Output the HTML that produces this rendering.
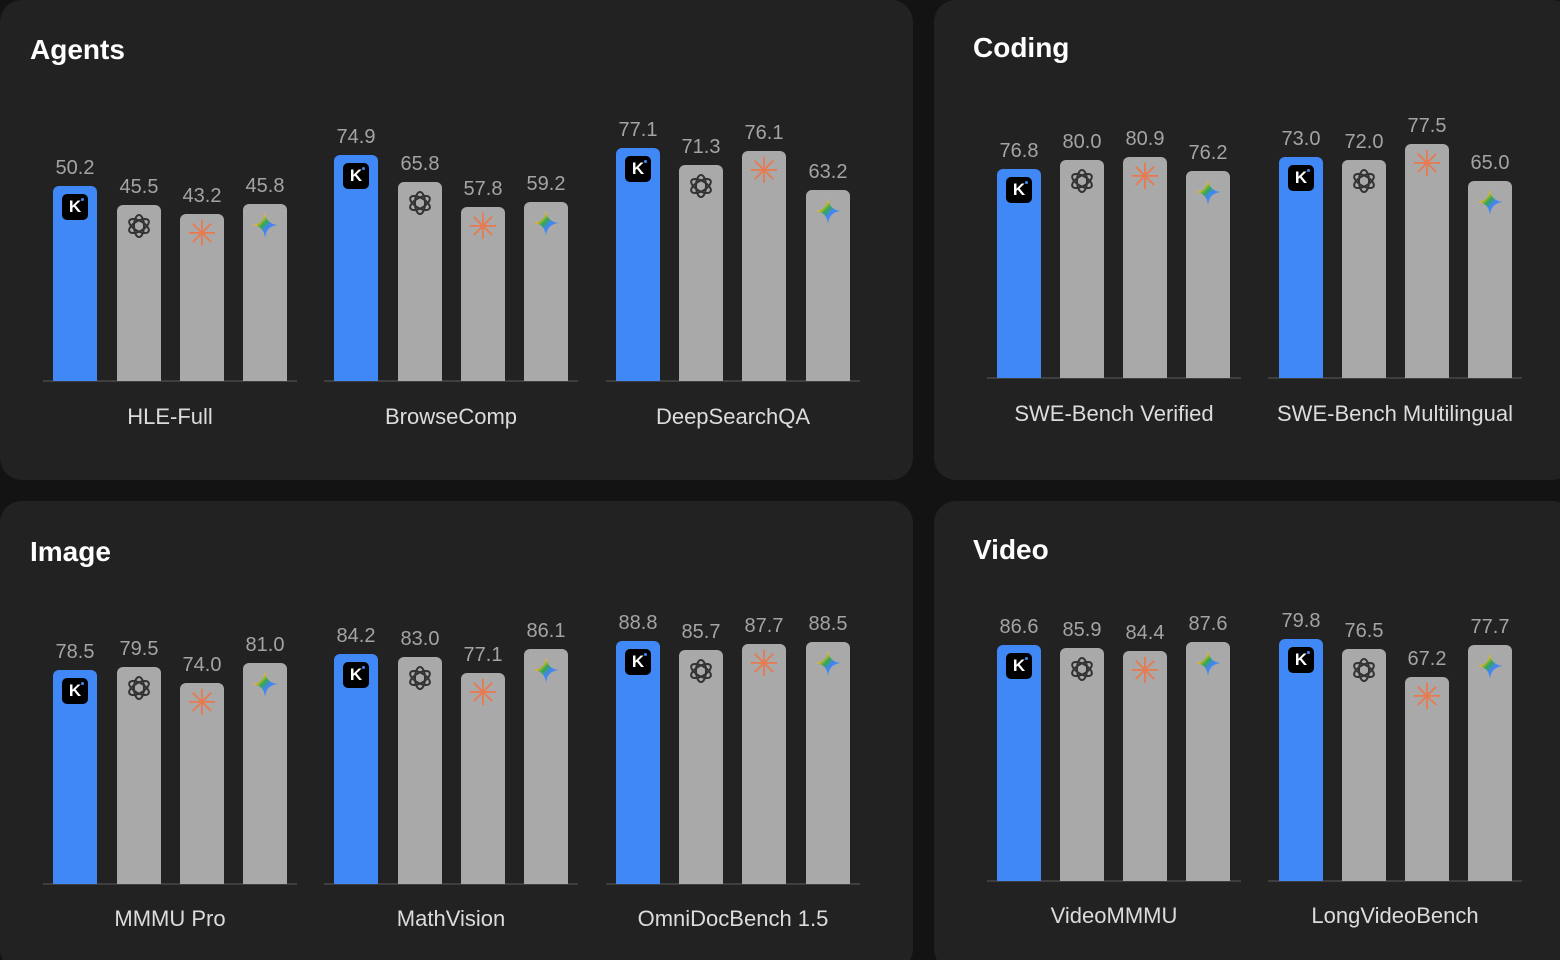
<!DOCTYPE html>
<html style="overflow:hidden"><head><meta charset="utf-8"><style>
html,body{margin:0;width:1560px;height:960px;overflow:hidden}
body{background:#131313;position:relative;font-family:"Liberation Sans",sans-serif}
.p{position:absolute;background:#222222;border-radius:22px}
.t{position:absolute;color:#fff;font-weight:bold;font-size:28px;line-height:30px}
.b{position:absolute;width:44px;border-radius:6px 6px 0 0}
.bl{background:#3f88f6}.g{background:#a9a9a9}
.v{position:absolute;width:70px;margin-left:-13px;text-align:center;font-size:20px;line-height:22px;color:#a4a4a4}
.ax{position:absolute;height:2px;background:#3e3e3e;width:254px}
.c{position:absolute;width:300px;text-align:center;font-size:22px;line-height:26px;color:#dcdcdc}
.i{position:absolute;left:8px;top:7px;width:28px;height:28px}
.k{position:absolute;left:9px;top:8px;width:26px;height:26px;background:#000;border-radius:5px;color:#fff;font-weight:bold;font-size:17px;line-height:26px;text-align:center}
.k:after{content:"";position:absolute;right:4px;top:4px;width:3px;height:3px;background:#3f88f6;border-radius:50%}
.cl{position:absolute;left:0;width:44px;top:3px;text-align:center;color:#e87a50;font-size:36px;line-height:34px}
</style></head><body>
<svg width="0" height="0" style="position:absolute"><defs>
<g id="oa" fill="none" stroke="#333" stroke-width="2"><ellipse cx="14" cy="14" rx="5" ry="11"/><ellipse cx="14" cy="14" rx="5" ry="11" transform="rotate(60 14 14)"/><ellipse cx="14" cy="14" rx="5" ry="11" transform="rotate(120 14 14)"/></g>
<linearGradient id="gm" x1="0" y1="0" x2="1" y2="1"><stop offset="0" stop-color="#e94235"/><stop offset=".3" stop-color="#f9bc15"/><stop offset=".45" stop-color="#34a853"/><stop offset=".6" stop-color="#4285f4"/><stop offset="1" stop-color="#4285f4"/></linearGradient>
<g id="gs"><path d="M14 1 Q15 13 27 14 Q15 15 14 27 Q13 15 1 14 Q13 13 14 1Z" fill="url(#gm)"/></g>
</defs></svg>

<div class="p" style="left:0;top:0;width:913px;height:480px"></div>
<div class="p" style="left:934px;top:0;width:640px;height:480px"></div>
<div class="p" style="left:0;top:501px;width:913px;height:470px"></div>
<div class="p" style="left:934px;top:501px;width:640px;height:470px"></div>

<div class="t" style="left:30px;top:35px">Agents</div>
<div class="t" style="left:973px;top:33px">Coding</div>
<div class="t" style="left:30px;top:537px">Image</div>
<div class="t" style="left:973px;top:535px">Video</div>

<div class="ax" style="left:43px;top:380px"></div><div class="ax" style="left:324px;top:380px"></div><div class="ax" style="left:606px;top:380px"></div>
<div class="c" style="left:20px;top:404px">HLE-Full</div><div class="c" style="left:301px;top:404px">BrowseComp</div><div class="c" style="left:583px;top:404px">DeepSearchQA</div>

<div class="b bl" style="left:53px;top:186px;height:195px"><div class="k">K</div></div><div class="v" style="left:53px;top:157px">50.2</div>
<div class="b g" style="left:117px;top:205px;height:176px"><svg class="i"><use href="#oa"/></svg></div><div class="v" style="left:117px;top:176px">45.5</div>
<div class="b g" style="left:180px;top:214px;height:167px"><div class="cl">✳</div></div><div class="v" style="left:180px;top:185px">43.2</div>
<div class="b g" style="left:243px;top:204px;height:177px"><svg class="i"><use href="#gs"/></svg></div><div class="v" style="left:243px;top:175px">45.8</div>

<div class="b bl" style="left:334px;top:155px;height:226px"><div class="k">K</div></div><div class="v" style="left:334px;top:126px">74.9</div>
<div class="b g" style="left:398px;top:182px;height:199px"><svg class="i"><use href="#oa"/></svg></div><div class="v" style="left:398px;top:153px">65.8</div>
<div class="b g" style="left:461px;top:207px;height:174px"><div class="cl">✳</div></div><div class="v" style="left:461px;top:178px">57.8</div>
<div class="b g" style="left:524px;top:202px;height:179px"><svg class="i"><use href="#gs"/></svg></div><div class="v" style="left:524px;top:173px">59.2</div>

<div class="b bl" style="left:616px;top:148px;height:233px"><div class="k">K</div></div><div class="v" style="left:616px;top:119px">77.1</div>
<div class="b g" style="left:679px;top:165px;height:216px"><svg class="i"><use href="#oa"/></svg></div><div class="v" style="left:679px;top:136px">71.3</div>
<div class="b g" style="left:742px;top:151px;height:230px"><div class="cl">✳</div></div><div class="v" style="left:742px;top:122px">76.1</div>
<div class="b g" style="left:806px;top:190px;height:191px"><svg class="i"><use href="#gs"/></svg></div><div class="v" style="left:806px;top:161px">63.2</div>

<div class="ax" style="left:987px;top:377px"></div><div class="ax" style="left:1268px;top:377px"></div>
<div class="c" style="left:964px;top:401px">SWE-Bench Verified</div><div class="c" style="left:1245px;top:401px">SWE-Bench Multilingual</div>

<div class="b bl" style="left:997px;top:169px;height:209px"><div class="k">K</div></div><div class="v" style="left:997px;top:140px">76.8</div>
<div class="b g" style="left:1060px;top:160px;height:218px"><svg class="i"><use href="#oa"/></svg></div><div class="v" style="left:1060px;top:131px">80.0</div>
<div class="b g" style="left:1123px;top:157px;height:221px"><div class="cl">✳</div></div><div class="v" style="left:1123px;top:128px">80.9</div>
<div class="b g" style="left:1186px;top:171px;height:207px"><svg class="i"><use href="#gs"/></svg></div><div class="v" style="left:1186px;top:142px">76.2</div>

<div class="b bl" style="left:1279px;top:157px;height:221px"><div class="k">K</div></div><div class="v" style="left:1279px;top:128px">73.0</div>
<div class="b g" style="left:1342px;top:160px;height:218px"><svg class="i"><use href="#oa"/></svg></div><div class="v" style="left:1342px;top:131px">72.0</div>
<div class="b g" style="left:1405px;top:144px;height:234px"><div class="cl">✳</div></div><div class="v" style="left:1405px;top:115px">77.5</div>
<div class="b g" style="left:1468px;top:181px;height:197px"><svg class="i"><use href="#gs"/></svg></div><div class="v" style="left:1468px;top:152px">65.0</div>

<div class="ax" style="left:43px;top:883px"></div><div class="ax" style="left:324px;top:883px"></div><div class="ax" style="left:606px;top:883px"></div>
<div class="c" style="left:20px;top:906px">MMMU Pro</div><div class="c" style="left:301px;top:906px">MathVision</div><div class="c" style="left:583px;top:906px">OmniDocBench 1.5</div>

<div class="b bl" style="left:53px;top:670px;height:214px"><div class="k">K</div></div><div class="v" style="left:53px;top:641px">78.5</div>
<div class="b g" style="left:117px;top:667px;height:217px"><svg class="i"><use href="#oa"/></svg></div><div class="v" style="left:117px;top:638px">79.5</div>
<div class="b g" style="left:180px;top:683px;height:201px"><div class="cl">✳</div></div><div class="v" style="left:180px;top:654px">74.0</div>
<div class="b g" style="left:243px;top:663px;height:221px"><svg class="i"><use href="#gs"/></svg></div><div class="v" style="left:243px;top:634px">81.0</div>

<div class="b bl" style="left:334px;top:654px;height:230px"><div class="k">K</div></div><div class="v" style="left:334px;top:625px">84.2</div>
<div class="b g" style="left:398px;top:657px;height:227px"><svg class="i"><use href="#oa"/></svg></div><div class="v" style="left:398px;top:628px">83.0</div>
<div class="b g" style="left:461px;top:673px;height:211px"><div class="cl">✳</div></div><div class="v" style="left:461px;top:644px">77.1</div>
<div class="b g" style="left:524px;top:649px;height:235px"><svg class="i"><use href="#gs"/></svg></div><div class="v" style="left:524px;top:620px">86.1</div>

<div class="b bl" style="left:616px;top:641px;height:243px"><div class="k">K</div></div><div class="v" style="left:616px;top:612px">88.8</div>
<div class="b g" style="left:679px;top:650px;height:234px"><svg class="i"><use href="#oa"/></svg></div><div class="v" style="left:679px;top:621px">85.7</div>
<div class="b g" style="left:742px;top:644px;height:240px"><div class="cl">✳</div></div><div class="v" style="left:742px;top:615px">87.7</div>
<div class="b g" style="left:806px;top:642px;height:242px"><svg class="i"><use href="#gs"/></svg></div><div class="v" style="left:806px;top:613px">88.5</div>

<div class="ax" style="left:987px;top:880px"></div><div class="ax" style="left:1268px;top:880px"></div>
<div class="c" style="left:964px;top:903px">VideoMMMU</div><div class="c" style="left:1245px;top:903px">LongVideoBench</div>

<div class="b bl" style="left:997px;top:645px;height:236px"><div class="k">K</div></div><div class="v" style="left:997px;top:616px">86.6</div>
<div class="b g" style="left:1060px;top:648px;height:233px"><svg class="i"><use href="#oa"/></svg></div><div class="v" style="left:1060px;top:619px">85.9</div>
<div class="b g" style="left:1123px;top:651px;height:230px"><div class="cl">✳</div></div><div class="v" style="left:1123px;top:622px">84.4</div>
<div class="b g" style="left:1186px;top:642px;height:239px"><svg class="i"><use href="#gs"/></svg></div><div class="v" style="left:1186px;top:613px">87.6</div>

<div class="b bl" style="left:1279px;top:639px;height:242px"><div class="k">K</div></div><div class="v" style="left:1279px;top:610px">79.8</div>
<div class="b g" style="left:1342px;top:649px;height:232px"><svg class="i"><use href="#oa"/></svg></div><div class="v" style="left:1342px;top:620px">76.5</div>
<div class="b g" style="left:1405px;top:677px;height:204px"><div class="cl">✳</div></div><div class="v" style="left:1405px;top:648px">67.2</div>
<div class="b g" style="left:1468px;top:645px;height:236px"><svg class="i"><use href="#gs"/></svg></div><div class="v" style="left:1468px;top:616px">77.7</div>
</body></html>
